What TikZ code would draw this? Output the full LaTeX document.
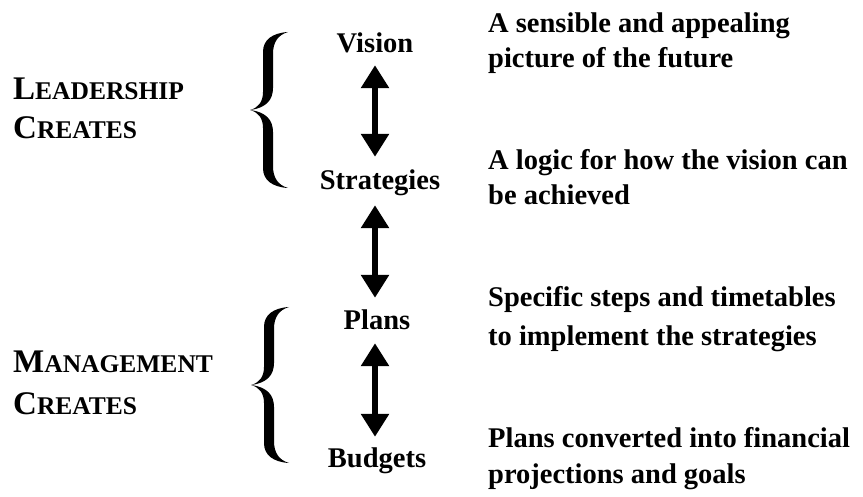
\documentclass[tikz,border=0pt]{standalone}
\usepackage{fontspec}
\setmainfont{Liberation Serif}
\usetikzlibrary{arrows.meta}
\newcommand\fakesc[2]{{\fontsize{33pt}{33pt}\selectfont #1}{\fontsize{25.5pt}{25.5pt}\selectfont #2}}
\begin{document}
\begin{tikzpicture}[x=1pt,y=-1pt,
  txt/.style={inner sep=0pt, font={\bfseries\fontsize{28.5pt}{37pt}\selectfont}},
  lbl/.style={txt, text height=20pt, text depth=7pt, anchor=base},
  desc/.style={txt, anchor=base west},
  side/.style={txt, anchor=base west},
  biarrow/.style={line width=6pt, {Triangle[width=27pt,length=23pt]}-{Triangle[width=27pt,length=23pt]}},
  bracepic/.pic={
    \fill (0,0) .. controls (8,-2) and (13,-8) .. (13,-18) -- (13,-58)
      .. controls (13,-70) and (22,-77) .. (38,-78)
      .. controls (28,-75) and (23,-68) .. (23,-56) -- (23,-22)
      .. controls (23,-10) and (16,-2) .. (0,0) -- cycle;
    \fill (0,0) .. controls (8,2) and (13,8) .. (13,18) -- (13,58)
      .. controls (13,70) and (22,77) .. (38,78)
      .. controls (28,75) and (23,68) .. (23,56) -- (23,22)
      .. controls (23,10) and (16,2) .. (0,0) -- cycle;
  }
]
\useasboundingbox (0,0) rectangle (863,497);

% centre column
\node[lbl] (vision) at (375,53) {Vision};
\node[lbl] (strat) at (380,190) {Strategies};
\node[lbl] (plans) at (377,330) {Plans};
\node[lbl] (budgets) at (377,467) {Budgets};

\draw[biarrow] ([yshift=-5pt]vision.south) -- ([yshift=13pt]vision.south |- strat.north);
\draw[biarrow] ([yshift=-8pt]vision.south |- strat.south) -- ([yshift=12pt]vision.south |- plans.north);
\draw[biarrow] ([yshift=-6pt]vision.south |- plans.south) -- ([yshift=10pt]vision.south |- budgets.north);

% braces
\pic at (250,110) {bracepic};
\pic at (251,385) {bracepic};

% left labels
\node[side] (lead1) at (13,100) {\fakesc{L}{EADERSHIP}};
\node[side] (lead2) at (13,139) {\fakesc{C}{REATES}};
\node[side] (man1) at (13,373) {\fakesc{M}{ANAGEMENT}};
\node[side] (man2) at (13,414) {\fakesc{C}{REATES}};

% right descriptions
\node[desc] (d1a) at (488,33) {A sensible and appealing};
\node[desc] (d1b) at (488,68) {picture of the future};
\node[desc] (d2a) at (488,170) {A logic for how the vision can};
\node[desc] (d2b) at (488,205) {be achieved};
\node[desc] (d3a) at (488,307) {Specific steps and timetables};
\node[desc] (d3b) at (488,346) {to implement the strategies};
\node[desc] (d4a) at (488,447) {Plans converted into financial};
\node[desc] (d4b) at (488,483) {projections and goals};
\end{tikzpicture}
\end{document}
